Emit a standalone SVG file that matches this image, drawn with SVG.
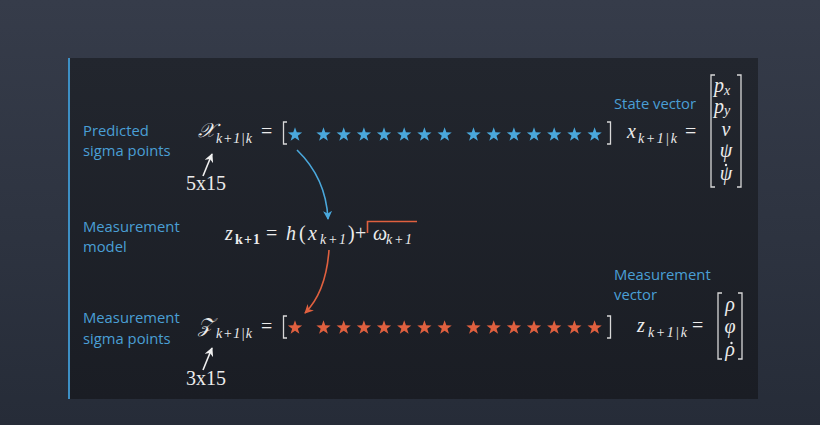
<svg xmlns="http://www.w3.org/2000/svg" width="820" height="425" viewBox="0 0 820 425">
<defs>
<linearGradient id="bg" x1="0" y1="0" x2="0" y2="1"><stop offset="0" stop-color="#363c4a"/><stop offset="1" stop-color="#262c38"/></linearGradient>
<linearGradient id="pn" x1="0" y1="0" x2="0" y2="1"><stop offset="0" stop-color="#22262e"/><stop offset="1" stop-color="#1a1d24"/></linearGradient>
<path id="star" d="M0,-7.5 L1.76,-2.43 7.13,-2.32 2.85,0.93 4.41,6.07 0,3 -4.41,6.07 -2.85,0.93 -7.13,-2.32 -1.76,-2.43Z"/>
<marker id="ab" viewBox="0 0 10 10" refX="9" refY="5" markerWidth="9" markerHeight="9" orient="auto" markerUnits="userSpaceOnUse"><path d="M0,0 L10,5 L0,10 L3,5Z" fill="#4aa8dc"/></marker>
<marker id="ao" viewBox="0 0 10 10" refX="9" refY="5" markerWidth="9" markerHeight="9" orient="auto" markerUnits="userSpaceOnUse"><path d="M0,0 L10,5 L0,10 L3,5Z" fill="#e0603f"/></marker>
<marker id="aw" viewBox="0 0 10 10" refX="9" refY="5" markerWidth="9" markerHeight="9" orient="auto" markerUnits="userSpaceOnUse"><path d="M0,0 L10,5 L0,10 L3,5Z" fill="#f0f0f0"/></marker>
</defs>
<style>
.lbl{font-family:"Open Sans","DejaVu Sans",sans-serif;font-size:14.8px;fill:#4a9fd5}
.m{font-family:"Liberation Serif","DejaVu Serif",serif;font-size:20px;fill:#ececec;font-style:italic}
.n{font-style:normal}
.s{font-size:14px}
.sb{font-size:14px;font-weight:bold;font-style:normal}
.br{fill:none;stroke:#d8d8d8;stroke-width:1.3}
.dot{fill:#ececec}
.sb1{fill:#4aa8dc}
.so{fill:#e0603f}
</style>
<rect width="820" height="425" fill="url(#bg)"/>
<rect x="68" y="58" width="690" height="341" fill="url(#pn)"/>
<rect x="68" y="58" width="2" height="341" fill="#3d8fc4"/>

<g id="predicted">
<text class="lbl" x="83" y="136">Predicted</text>
<text class="lbl" x="83" y="156">sigma points</text>
<text class="m" x="198" y="137" font-size="18">𝒳</text>
<text class="m s" x="216" y="143" textLength="36" lengthAdjust="spacing">k+1|k</text>
<text class="m n" x="261" y="138">=</text>
<path class="br" d="M287,122 H283.5 V144 H287"/>
<path class="br" d="M607,122 H610.5 V144 H607"/>
<g class="sb1">
<use href="#star" x="295" y="134.7"/><use href="#star" x="323.5" y="134.7"/><use href="#star" x="343.7" y="134.7"/><use href="#star" x="363.9" y="134.7"/><use href="#star" x="384" y="134.7"/><use href="#star" x="404.2" y="134.7"/><use href="#star" x="424.4" y="134.7"/><use href="#star" x="444.6" y="134.7"/><use href="#star" x="473.5" y="134.7"/><use href="#star" x="493.7" y="134.7"/><use href="#star" x="513.9" y="134.7"/><use href="#star" x="534" y="134.7"/><use href="#star" x="554.2" y="134.7"/><use href="#star" x="574.4" y="134.7"/><use href="#star" x="594.6" y="134.7"/>
</g>
<text class="m n" x="186" y="190" font-size="17">5x15</text>
</g>

<g id="state">
<text class="lbl" x="614" y="109">State vector</text>
<text class="m" x="627" y="138">x</text>
<text class="m s" x="638" y="143" textLength="39" lengthAdjust="spacing">k+1|k</text>
<text class="m n" x="685" y="138">=</text>
<path class="br" d="M715,75 H711 V187 H715"/>
<path class="br" d="M737,75 H741 V187 H737"/>
<text class="m" x="714" y="92" font-size="18">p</text><text class="m s" x="724" y="95" font-size="12">x</text>
<text class="m" x="714" y="113" font-size="18">p</text><text class="m s" x="724" y="115" font-size="11">y</text>
<text class="m" x="726" y="136" text-anchor="middle" font-size="18">v</text>
<text class="m" x="726" y="157" text-anchor="middle" font-size="18">ψ</text>
<text class="m" x="726" y="180" text-anchor="middle" font-size="18">ψ</text>
<circle class="dot" cx="726" cy="165" r="1.2"/>
</g>

<g id="model">
<text class="lbl" x="83" y="232">Measurement</text>
<text class="lbl" x="83" y="252">model</text>
<text class="m" x="225" y="240">z</text>
<text class="m sb" x="235" y="244" textLength="25" lengthAdjust="spacing">k+1</text>
<text class="m n" x="266" y="240">=</text>
<text class="m" x="286" y="240">h</text>
<text class="m n" x="299" y="240">(</text>
<text class="m" x="308" y="240">x</text>
<text class="m s" x="320" y="244" textLength="26" lengthAdjust="spacing">k+1</text>
<text class="m n" x="348" y="240">)</text>
<text class="m n" x="355" y="240">+</text>
<text class="m" x="373" y="240">ω</text>
<text class="m s" x="386" y="244" textLength="26" lengthAdjust="spacing">k+1</text>
<path d="M367.5,233 V221.5 H417" fill="none" stroke="#e0603f" stroke-width="1.6"/>
</g>

<g id="msigma">
<text class="lbl" x="83" y="323">Measurement</text>
<text class="lbl" x="83" y="344">sigma points</text>
<text class="m" x="198" y="332" font-size="18">𝒵</text>
<text class="m s" x="216" y="338" textLength="36" lengthAdjust="spacing">k+1|k</text>
<text class="m n" x="261" y="333">=</text>
<path class="br" d="M287,316 H283.5 V338 H287"/>
<path class="br" d="M607,316 H610.5 V338 H607"/>
<g class="so">
<use href="#star" x="295" y="327.7"/><use href="#star" x="323.5" y="327.7"/><use href="#star" x="343.7" y="327.7"/><use href="#star" x="363.9" y="327.7"/><use href="#star" x="384" y="327.7"/><use href="#star" x="404.2" y="327.7"/><use href="#star" x="424.4" y="327.7"/><use href="#star" x="444.6" y="327.7"/><use href="#star" x="473.5" y="327.7"/><use href="#star" x="493.7" y="327.7"/><use href="#star" x="513.9" y="327.7"/><use href="#star" x="534" y="327.7"/><use href="#star" x="554.2" y="327.7"/><use href="#star" x="574.4" y="327.7"/><use href="#star" x="594.6" y="327.7"/>
</g>
<text class="m n" x="186" y="385" font-size="17">3x15</text>
</g>

<g id="mvector">
<text class="lbl" x="614" y="280">Measurement</text>
<text class="lbl" x="614" y="300">vector</text>
<text class="m" x="637" y="332">z</text>
<text class="m s" x="648" y="337" textLength="39" lengthAdjust="spacing">k+1|k</text>
<text class="m n" x="692" y="332">=</text>
<path class="br" d="M722,293 H718 V359 H722"/>
<path class="br" d="M738,293 H742 V359 H738"/>
<text class="m" x="730" y="311" text-anchor="middle" font-size="18">ρ</text>
<text class="m" x="730" y="333" text-anchor="middle" font-size="18">φ</text>
<text class="m" x="730" y="356" text-anchor="middle" font-size="18">ρ</text>
<circle class="dot" cx="731.5" cy="343" r="1.2"/>
</g>

<g id="connectors" fill="none" stroke-width="1.6">
<path d="M297,150 Q326,178 328,219" stroke="#4aa8dc" marker-end="url(#ab)"/>
<path d="M329,250 Q326,292 305,313" stroke="#e0603f" marker-end="url(#ao)"/>
<path d="M203,176 L212,154" stroke="#f0f0f0" marker-end="url(#aw)"/>
<path d="M203,370 L212,348" stroke="#f0f0f0" marker-end="url(#aw)"/>
</g>
</svg>
